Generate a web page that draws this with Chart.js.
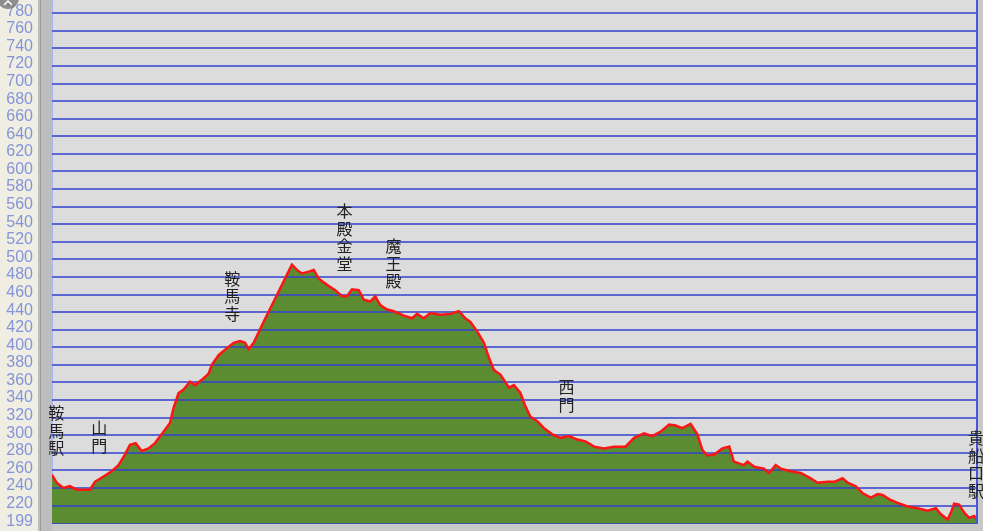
<!DOCTYPE html>
<html>
<head>
<meta charset="utf-8">
<script src="https://cdn.jsdelivr.net/npm/chart.js@4/dist/chart.umd.min.js"></script>
<style>
  html, body { margin: 0; padding: 0; background: #c8c8c8; overflow: hidden; }
  canvas { display: block; }
</style>
</head>
<body>
<canvas id="profile_chart" width="983" height="531"></canvas>
<script>
// horizontal distance along the trail (m) and elevation (m)
const distance = [
    0, 13, 32, 50, 69, 106, 120, 144, 167, 186,
    204, 218, 234, 251, 270, 288, 312, 330, 340, 354,
    368, 386, 400, 419, 438, 447, 466, 489, 508, 526,
    540, 550, 564, 592, 620, 648, 671, 685, 699, 718,
    732, 746, 769, 792, 811, 825, 839, 858, 872, 890,
    904, 918, 937, 956, 984, 1007, 1021, 1040, 1058, 1086,
    1114, 1138, 1156, 1170, 1189, 1208, 1222, 1236, 1254, 1278,
    1292, 1310, 1324, 1338, 1357, 1376, 1399, 1422, 1446, 1469,
    1492, 1516, 1544, 1572, 1604, 1628, 1656, 1679, 1702, 1726,
    1744, 1763, 1786, 1805, 1819, 1833, 1852, 1875, 1894, 1907,
    1935, 1945, 1964, 1991, 2005, 2024, 2038, 2066, 2094, 2122,
    2141, 2169, 2188, 2211, 2225, 2248, 2267, 2290, 2309, 2323,
    2342, 2365, 2393, 2421, 2449, 2472, 2486, 2505, 2514, 2523,
    2537, 2551, 2565, 2579, 2587
];
const elevation = [
    255, 246, 240, 242, 238, 238, 247, 253, 259, 266,
    278, 289, 291, 282, 285, 291, 304, 314, 331, 348,
    352, 361, 357, 363, 370, 380, 391, 399, 405, 407,
    405, 398, 405, 429, 452, 475, 494, 488, 484, 486,
    488, 478, 471, 465, 458, 458, 466, 465, 454, 452,
    458, 448, 443, 441, 436, 433, 438, 433, 439, 437,
    438, 441, 433, 429, 418, 405, 388, 374, 369, 354,
    357, 348, 333, 321, 316, 308, 301, 297, 299, 295,
    293, 287, 285, 287, 287, 297, 302, 299, 304, 312,
    311, 308, 313, 301, 283, 277, 278, 285, 287, 270,
    266, 270, 264, 262, 257, 266, 262, 259, 257, 251,
    246, 247, 247, 251, 246, 242, 234, 229, 233, 232,
    227, 223, 219, 217, 214, 217, 210, 204, 212, 222,
    221, 212, 206, 208, 204
];
const yTicks = [
    199, 220, 240, 260, 280, 300, 320, 340, 360, 380,
    400, 420, 440, 460, 480, 500, 520, 540, 560, 580,
    600, 620, 640, 660, 680, 700, 720, 740, 760, 780
];
const placeNames = ['鞍馬駅', '山門', '鞍馬寺', '本殿金堂', '魔王殿', '西門', '貴船口駅'];
const placeDistance = [12, 132, 504, 818, 955, 1439, 2584];
const placeElevation = [250, 253, 403, 460, 440, 300, 202];

const points = distance.map((d, i) => ({ x: d, y: elevation[i] }));

// panels behind the plot, like the old viewer window
const backdrop = {
    id: 'backdrop',
    beforeDraw(chart) {
        const { ctx, chartArea: a, width, height } = chart;
        ctx.save();
        ctx.fillStyle = '#c9c9c9';
        ctx.fillRect(0, 0, width, height);
        ctx.fillStyle = '#f0eee2';
        ctx.fillRect(0, 0, 38, height);
        ctx.fillStyle = '#bdbdbd';
        ctx.fillRect(38, 0, a.left - 38, height);
        ctx.fillStyle = '#9a9a9a';
        ctx.fillRect(40, 0, 1, height);
        ctx.fillStyle = '#dcdcdc';
        ctx.fillRect(a.left, a.top, a.right - a.left, a.bottom - a.top);
        ctx.restore();
    }
};

// horizontal rules go over the green fill but under the red line
const rules = {
    id: 'rules',
    afterDatasetDraw(chart, args) {
        if (args.index !== 1) return;
        const { ctx, chartArea: a } = chart;
        const y = chart.scales.y;
        ctx.save();
        ctx.beginPath();
        ctx.rect(a.left, a.top, a.right - a.left, a.bottom - a.top);
        ctx.clip();
        ctx.strokeStyle = 'rgba(50,65,205,0.75)';
        ctx.lineWidth = 2;
        y.ticks.forEach(t => {
            const py = Math.round(y.getPixelForValue(t.value));
            ctx.beginPath();
            ctx.moveTo(a.left, py);
            ctx.lineTo(a.right, py);
            ctx.stroke();
        });
        ctx.restore();
    }
};

const places = {
    id: 'places',
    afterDatasetsDraw(chart) {
        const { ctx, chartArea: a } = chart;
        const x = chart.scales.x, y = chart.scales.y;
        ctx.save();
        // right frame line
        ctx.strokeStyle = '#4656d6';
        ctx.lineWidth = 2;
        ctx.beginPath();
        ctx.moveTo(a.right, 0);
        ctx.lineTo(a.right, a.bottom);
        ctx.stroke();

        ctx.font = '16px "Noto Sans CJK JP"';
        ctx.fillStyle = '#222222';
        ctx.textAlign = 'center';
        ctx.textBaseline = 'middle';
        placeNames.forEach((name, i) => {
            const px = x.getPixelForValue(placeDistance[i]);
            const bottom = y.getPixelForValue(placeElevation[i]) - 22;
            const chars = [...name];
            chars.forEach((c, j) => {
                ctx.fillText(c, px, bottom - (chars.length - j - 0.5) * 17.5);
            });
        });

        // scroll knob in the corner
        ctx.fillStyle = 'rgba(125,125,125,0.85)';
        ctx.beginPath();
        ctx.arc(8, -2, 11, 0, Math.PI * 2);
        ctx.fill();
        ctx.strokeStyle = '#ffffff';
        ctx.lineWidth = 1.5;
        ctx.beginPath();
        ctx.moveTo(4, 5);
        ctx.lineTo(8, 1);
        ctx.lineTo(12, 5);
        ctx.stroke();
        ctx.restore();
    }
};

const ctx = document.getElementById('profile_chart').getContext('2d');
const profileChart = new Chart(ctx, {
    type: 'line',
    data: {
        datasets: [{
            data: points,
            borderColor: '#ff1414',
            borderWidth: 2.5,
            pointRadius: 0,
            fill: false,
            tension: 0,
            order: 0
        }, {
            data: points,
            borderWidth: 0,
            borderColor: 'rgba(0,0,0,0)',
            backgroundColor: '#5b8c32',
            pointRadius: 0,
            fill: 'start',
            tension: 0,
            order: 1
        }]
    },
    options: {
        responsive: false,
        animation: false,
        devicePixelRatio: 1,
        layout: { padding: { left: 0, right: 6, top: 0, bottom: 7 } },
        scales: {
            x: {
                type: 'linear',
                display: false,
                min: 0,
                max: 2587
            },
            y: {
                min: 199,
                max: 795,
                afterBuildTicks: scale => {
                    scale.ticks = yTicks.map(v => ({ value: v }));
                },
                afterFit: scale => {
                    scale.width = 52;
                    scale.paddingTop = 0;
                    scale.paddingBottom = 0;
                },
                ticks: {
                    color: '#8394da',
                    font: { family: 'Liberation Sans', size: 16 },
                    padding: 19,
                    labelOffset: -2,
                    autoSkip: false
                },
                grid: { display: false, drawTicks: false },
                border: { display: true, color: '#aab6f2', width: 1 }
            }
        },
        plugins: {
            legend: { display: false },
            tooltip: { enabled: false }
        }
    },
    plugins: [backdrop, rules, places]
});
</script>
</body>
</html>
